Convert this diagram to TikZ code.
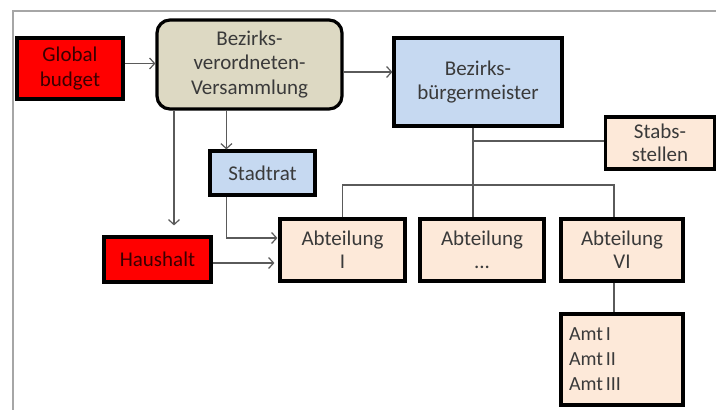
\documentclass[tikz,border=0pt]{standalone}
\usepackage{fontspec}
\setmainfont{Carlito}
\usetikzlibrary{arrows.meta}
\definecolor{txt}{HTML}{3A3A3A}
\definecolor{redtxt}{HTML}{3A0000}
\definecolor{beige}{HTML}{DDD9C3}
\definecolor{lblue}{HTML}{C6D9F1}
\definecolor{peach}{HTML}{FDE9D9}
\definecolor{conn}{HTML}{5A5A5A}
\definecolor{frame}{HTML}{A6A6A6}
\newcommand{\tsp}{\hspace{0.14em}}
\tikzset{
  box/.style={draw=black, line width=3.2pt, inner sep=0pt, align=center, text=txt,
    font=\fontsize{21}{24.5}\selectfont},
  redbox/.style={box, fill=red, text=redtxt},
  bluebox/.style={box, fill=lblue},
  peachbox/.style={box, fill=peach},
  conline/.style={draw=conn, line width=1.2pt},
  arr/.style={conline, -{Straight Barb[length=5pt,width=11pt,line width=1.2pt]}},
}
\begin{document}
\begin{tikzpicture}[x=1pt,y=-1pt]
\useasboundingbox (0,0) rectangle (716,410);
\fill[white] (0,0) rectangle (716,410);
\draw[frame, line width=2pt] (13,410) -- (13,11) -- (716,11);

\node[redbox, minimum width=106, minimum height=61] (gb) at (70,68.5) {Global\\budget};
\node[box, fill=beige, rounded corners=13pt, minimum width=185, minimum height=89] (bvv) at (249.5,64.5) {Bezirks-\\verordneten-\\Versammlung};
\node[bluebox, minimum width=105, minimum height=44] (sr) at (262.5,173) {Stadtrat};
\node[redbox, minimum width=107, minimum height=45] (hh) at (157.5,259.5) {Haushalt};
\node[bluebox, minimum width=168, minimum height=88] (bbm) at (478,82) {Bezirks-\\bürgermeister};
\node[peachbox, minimum width=109, minimum height=52, font=\fontsize{21}{23}\selectfont] (st) at (660,143) {Stabs-\\stellen};
\node[peachbox, minimum width=125, minimum height=62, font=\fontsize{21}{23}\selectfont] (a1) at (342.5,250) {Abteilung\\I};
\node[peachbox, minimum width=124, minimum height=62, font=\fontsize{21}{23}\selectfont] (a2) at (482,250) {Abteilung\\...};
\node[peachbox, minimum width=122, minimum height=62, font=\fontsize{21}{23}\selectfont] (a3) at (622,250) {Abteilung\\VI};
\node[peachbox, minimum width=122, minimum height=91, align=left, text width=106, font=\fontsize{20}{25}\selectfont] (amt) at (622,359.5) {Amt\tsp I\\Amt\tsp II\\Amt\tsp III};

\coordinate (bus) at (473,185);
\coordinate (stj) at (473,141);

\draw[arr] ([yshift=5pt]gb.east) -- ([yshift=5pt]gb.east -| bvv.west);
\draw[arr] ([yshift=10pt]bbm.west -| bvv.east) -- ([yshift=10pt]bbm.west);
\draw[arr] ([xshift=18pt]sr.north west |- bvv.south) -- ([xshift=18pt]sr.north west);
\draw[arr] ([xshift=16.5pt]hh.north |- bvv.south) -- ([xshift=16.5pt,yshift=10pt]hh.north);
\draw[arr] ([xshift=18pt]sr.south west) |- ([xshift=-1pt,yshift=12pt]a1.west);
\draw[arr] ([yshift=-13pt]a1.west -| hh.east) -- ([xshift=-4pt,yshift=-13pt]a1.west);
\draw[conline] ([xshift=-5pt]bbm.south) -- ([xshift=-5pt]bbm.south |- a2.north);
\draw[conline] (stj) -- (stj -| st.west);
\draw[conline] (a1.north) |- (bus) -| ([xshift=-8pt]a3.north);
\draw[conline] ([xshift=-8pt]a3.south) -- ([xshift=-8pt]a3.south |- amt.north);
\end{tikzpicture}
\end{document}
